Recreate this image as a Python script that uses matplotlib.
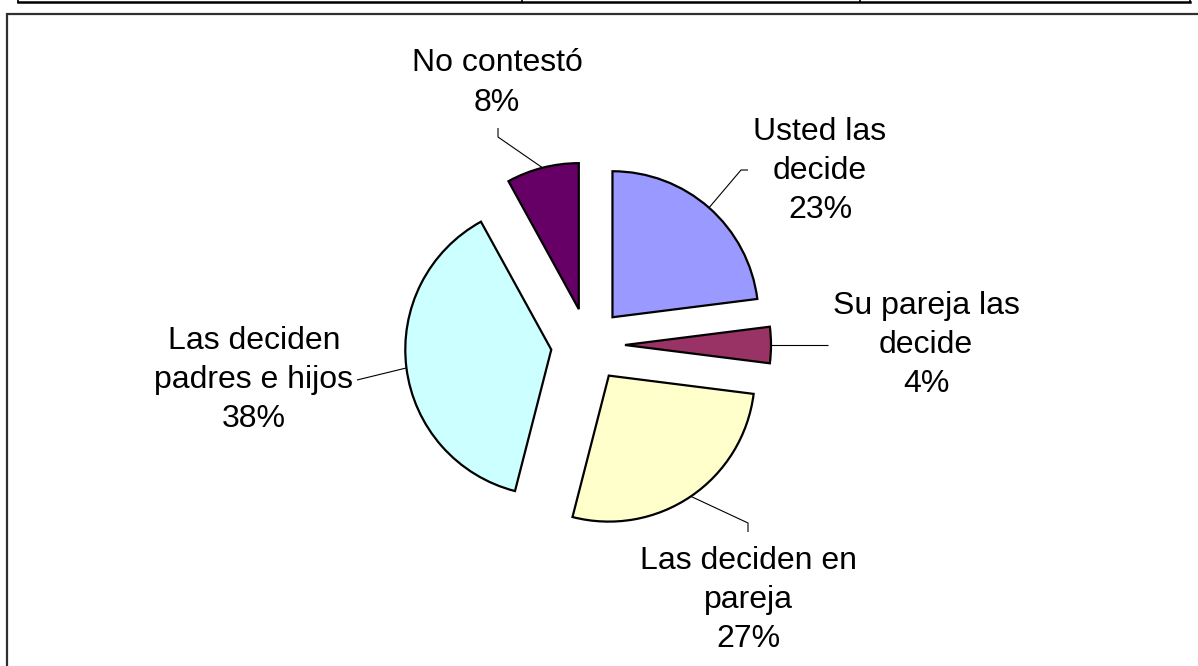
import numpy as np
import matplotlib
matplotlib.use("Agg")
import matplotlib.pyplot as plt

# ---- data ----
categories = ["Usted las\ndecide", "Su pareja las\ndecide", "Las deciden en\npareja",
              "Las deciden\npadres e hijos", "No contestó"]
values = [23, 4, 27, 38, 8]
colors = ["#9999FF", "#993366", "#FFFFCC", "#CCFFFF", "#660066"]

W, H = 1198, 666
fig = plt.figure(figsize=(W / 100, H / 100), dpi=100)
ax = fig.add_axes([0, 0, 1, 1])

cx, cy = 588, H - 345
R = 146
EXPL = 37  # offset in data units (= pixels)
wedges, _ = ax.pie(values, colors=colors, startangle=90, counterclock=False,
                   explode=[EXPL] * len(values), radius=R, center=(cx, cy),
                   wedgeprops=dict(edgecolor="black", linewidth=1.6))
ax.set_xlim(0, W)
ax.set_ylim(0, H)
ax.set_aspect("auto")
ax.axis("off")

plt.rcParams["font.family"] = ["Liberation Sans", "DejaVu Sans"]
fs = 23

# label layout (pixel positions, y down) and leader elbows
label_pos = [(820, 171), (926, 345), (748, 600), (254, 380), (497, 83)]
elbows = [[(741, 170), (748, 170)],
          [(828, 345)],
          [(748, 523), (748, 532)],
          [(357, 380)],
          [(498, 137), (498, 128)]]

for w, cat, v, (lx, ly), el in zip(wedges, categories, values, label_pos, elbows):
    ang = np.deg2rad((w.theta1 + w.theta2) / 2)
    px = w.center[0] + w.r * np.cos(ang)
    py = w.center[1] + w.r * np.sin(ang)
    xs = [px] + [e[0] for e in el]
    ys = [py] + [H - e[1] for e in el]
    ax.plot(xs, ys, color="black", lw=0.8, solid_capstyle="butt")
    ax.text(lx, H - ly, f"{cat}\n{v}%", ha="center", va="center",
            multialignment="center", fontsize=fs, linespacing=1.41,
            family=["Liberation Sans", "DejaVu Sans"], color="black")

# chart frame and table border lines
ax.plot([7, 7, W + 5], [-5, H - 14, H - 14], color="#303030", lw=1.6,
        solid_joinstyle="miter", clip_on=False)
ax.plot([18, 1190], [H - 1.5, H - 1.5], color="black", lw=1.8)
for x in [18, 522, 860, 1190]:
    ax.plot([x, x], [H - 1.5, H + 2], color="black", lw=1.2, clip_on=False)

fig.savefig("out.png", dpi=100)
